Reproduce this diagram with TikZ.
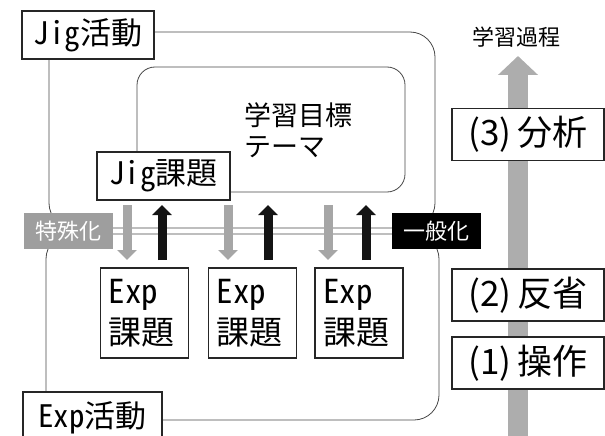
\documentclass[tikz,border=0pt]{standalone}
\usepackage{fontspec}
\setmainfont{Noto Sans CJK JP}
\newfontfamily\hw{Noto Sans CJK JP}[RawFeature=+hwid]
\usetikzlibrary{arrows.meta}
\newcommand\myfs[2]{\fontsize{#1}{#2}\selectfont}
\begin{document}
\begin{tikzpicture}[x=1pt,y={(0pt,-1pt)},
  lbox/.style={draw=black!85, line width=1.2pt, fill=white, inner sep=0pt},
  region/.style={draw=black!72, line width=0.8pt, rounded corners=25pt},
  downarr/.style={draw=black!35, line width=9pt, -{Triangle[width=19pt,length=10pt]}},
  uparr/.style={draw=black!92, line width=9pt, -{Triangle[width=19pt,length=10pt]}},
  bigarr/.style={draw=black!32, line width=20pt, -{Triangle[width=39pt,length=19pt]}},
  tagbox/.style={inner sep=0pt, minimum width=89pt, minimum height=36pt, text=white, font=\myfs{22}{22}},
  expbox/.style={lbox, minimum height=90pt, text width=72pt, inner xsep=8pt, align=left, font=\myfs{33}{41}},
  stepbox/.style={lbox, minimum width=152pt, minimum height=52pt, font=\myfs{35}{35}}
]
\useasboundingbox (0,0) rectangle (605,436);

% learning process arrow
\coordinate (pbot) at (518,445);
\coordinate (ptop) at (518,56);
\draw[bigarr] (pbot) -- (ptop);
\node[font=\myfs{22}{22}] (proc) at (516,37) {学習過程};

% regions
\draw[region] (49,32) rectangle (435,228);
\draw[region] (46,234) rectangle (439,420);
\draw[region, rounded corners=18pt] (137,67) rectangle (405,192);

\node[align=left, font=\myfs{27}{31}] (goal) at (298,130) {学習目標\\テーマ};

% labels
\node[lbox, minimum width=132pt, minimum height=48pt, font=\myfs{31}{31}] (jiga) at (88,35) {{\hw Jig}活動};
\node[lbox, minimum width=133pt, minimum height=48pt, font=\myfs{31}{31}] (jigk) at (163.5,176) {{\hw Jig}課題};
\node[lbox, minimum width=139pt, minimum height=52pt, font=\myfs{31}{31}] (expa) at (92.5,418) {{\hw Exp}活動};

\node[tagbox, fill=black!38] (spec) at (68.5,231) {特殊化};
\node[tagbox, fill=black] (gen) at (436,231) {一般化};

\node[expbox] (e1) at (144.5,313) {{\hw Exp}\\課題};
\node[expbox] (e2) at (252.5,313) {{\hw Exp}\\課題};
\node[expbox] (e3) at (359,313) {{\hw Exp}\\課題};

% arrows
\coordinate (d1a) at (127,205); \coordinate (d1b) at (127,260);
\coordinate (u1a) at (162,260); \coordinate (u1b) at (162,205);
\coordinate (d2a) at (228,205); \coordinate (d2b) at (228,260);
\coordinate (u2a) at (268,260); \coordinate (u2b) at (268,205);
\coordinate (d3a) at (328,205); \coordinate (d3b) at (328,260);
\coordinate (u3a) at (366,260); \coordinate (u3b) at (366,205);
\draw[downarr] (d1a) -- (d1b);
\draw[uparr] (u1a) -- (u1b);
\draw[downarr] (d2a) -- (d2b);
\draw[uparr] (u2a) -- (u2b);
\draw[downarr] (d3a) -- (d3b);
\draw[uparr] (u3a) -- (u3b);

% steps
\node[stepbox] (s3) at (528,134.5) {(3)\hspace{6pt}分析};
\node[stepbox] (s2) at (528,295) {(2)\hspace{6pt}反省};
\node[stepbox] (s1) at (528,363) {(1)\hspace{6pt}操作};
\end{tikzpicture}
\end{document}
